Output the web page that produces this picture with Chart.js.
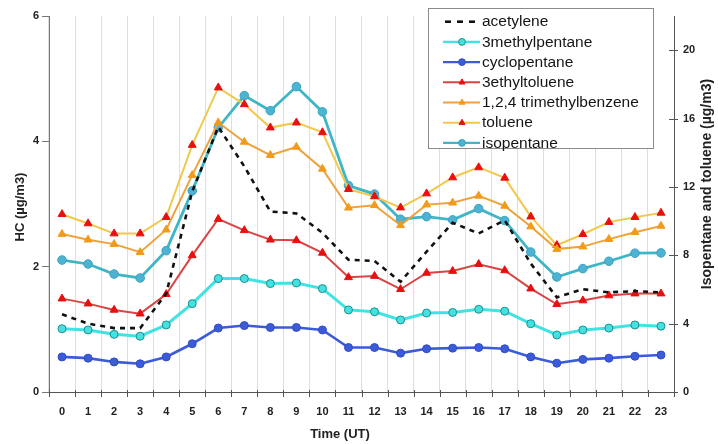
<!DOCTYPE html>
<html>
<head>
<meta charset="utf-8">
<script src="https://cdn.jsdelivr.net/npm/chart.js@4/dist/chart.umd.min.js"></script>
<style>
  html, body { margin: 0; padding: 0; background: #fff; }
  #wrap { width: 718px; height: 444px; }
</style>
</head>
<body>
<div id="wrap"><canvas id="c" width="718" height="444"></canvas></div>
<script>
// Hour of day (UT)
const hours = ['0','1','2','3','4','5','6','7','8','9','10','11','12','13','14','15','16','17','18','19','20','21','22','23'];

// Left axis species (µg/m3)
const acetylene      = [1.24,1.09,1.02,1.02,1.57,3.20,4.23,3.60,2.88,2.85,2.54,2.11,2.09,1.76,2.24,2.70,2.53,2.74,2.05,1.51,1.64,1.59,1.61,1.59];
const methylpentane3 = [1.01,0.99,0.92,0.89,1.07,1.41,1.81,1.81,1.73,1.74,1.65,1.31,1.28,1.15,1.26,1.27,1.32,1.29,1.09,0.91,0.99,1.02,1.07,1.05];
const cyclopentane   = [0.56,0.54,0.48,0.45,0.56,0.77,1.02,1.06,1.03,1.03,0.99,0.71,0.71,0.62,0.69,0.70,0.71,0.69,0.56,0.46,0.52,0.54,0.57,0.59];
const ethyltoluene3  = [1.49,1.41,1.31,1.25,1.56,2.18,2.76,2.58,2.43,2.42,2.22,1.83,1.85,1.64,1.90,1.93,2.04,1.94,1.65,1.40,1.46,1.54,1.57,1.57];
const tmb124         = [2.52,2.43,2.36,2.23,2.59,3.46,4.30,3.99,3.78,3.91,3.56,2.94,2.98,2.66,2.99,3.02,3.13,2.97,2.64,2.28,2.32,2.44,2.55,2.65];

// Right axis species (µg/m3)
const toluene        = [10.40,9.86,9.27,9.27,10.23,14.45,17.81,16.83,15.47,15.76,15.19,11.87,11.44,10.79,11.61,12.55,13.14,12.53,10.26,8.59,9.23,9.94,10.23,10.48];
const isopentane     = [7.72,7.49,6.90,6.67,8.27,11.77,15.47,17.34,16.46,17.87,16.39,12.08,11.58,10.11,10.26,10.07,10.73,10.03,8.19,6.73,7.22,7.65,8.12,8.14];

// Axis ticks
const leftTicks  = [0, 2, 4, 6];
const rightTicks = [0, 4, 8, 12, 16, 20];

const FONT = '"Liberation Sans", Arial, sans-serif';

const datasets = [
  { label: 'acetylene', data: acetylene, yAxisID: 'y',
    borderColor: '#111111', borderWidth: 2.6, borderDash: [5, 5],
    pointRadius: 0, pointStyle: false },
  { label: '3methylpentane', data: methylpentane3, yAxisID: 'y',
    borderColor: '#3fe3e3', borderWidth: 3, pointStyle: 'circle', pointRadius: 4,
    pointBackgroundColor: '#45e0e0', pointBorderColor: '#1b8f8f', pointBorderWidth: 1 },
  { label: 'cyclopentane', data: cyclopentane, yAxisID: 'y',
    borderColor: '#3b5bd9', borderWidth: 2.6, pointStyle: 'circle', pointRadius: 4,
    pointBackgroundColor: '#3b5bd9', pointBorderColor: '#2f4cc4', pointBorderWidth: 1 },
  { label: '3ethyltoluene', data: ethyltoluene3, yAxisID: 'y',
    borderColor: '#d94545', borderWidth: 2, pointStyle: 'triangle', pointRadius: 4.6,
    pointBackgroundColor: '#e8100f', pointBorderColor: '#e8100f', pointBorderWidth: 1 },
  { label: '1,2,4 trimethylbenzene', data: tmb124, yAxisID: 'y',
    borderColor: '#eea23c', borderWidth: 2, pointStyle: 'triangle', pointRadius: 4.6,
    pointBackgroundColor: '#f29a1c', pointBorderColor: '#f29a1c', pointBorderWidth: 1 },
  { label: 'toluene', data: toluene, yAxisID: 'y2',
    borderColor: '#f2c84b', borderWidth: 2, pointStyle: 'triangle', pointRadius: 4.6,
    pointBackgroundColor: '#e8100f', pointBorderColor: '#e8100f', pointBorderWidth: 1 },
  { label: 'isopentane', data: isopentane, yAxisID: 'y2',
    borderColor: '#3fb6c6', borderWidth: 2.8, pointStyle: 'circle', pointRadius: 4.3,
    pointBackgroundColor: '#4eb3d3', pointBorderColor: '#3aa3c0', pointBorderWidth: 1 }
];

// Axis titles, tick marks that cross the axis lines, and the boxed legend
const decorations = {
  id: 'decorations',
  afterDatasetsDraw(chart) {
    const ctx = chart.ctx;
    const area = chart.chartArea;
    const xs = chart.scales.x, y2 = chart.scales.y2;
    const step = xs.getPixelForValue(1) - xs.getPixelForValue(0);

    ctx.save();
    ctx.strokeStyle = '#555';
    ctx.lineWidth = 1;
    // x tick marks at category boundaries
    for (let i = 0; i <= hours.length; i++) {
      const px = Math.round(xs.getPixelForValue(i) - step / 2) + 0.5;
      ctx.beginPath();
      ctx.moveTo(px, area.bottom - 2);
      ctx.lineTo(px, area.bottom + 5);
      ctx.stroke();
    }
    // right axis tick marks
    rightTicks.forEach(v => {
      const py = Math.round(y2.getPixelForValue(v)) + 0.5;
      ctx.beginPath();
      ctx.moveTo(area.right - 5, py);
      ctx.lineTo(area.right + 4, py);
      ctx.stroke();
    });
    ctx.restore();
  },
  afterDraw(chart) {
    const ctx = chart.ctx;
    // Axis titles
    ctx.save();
    ctx.fillStyle = '#222';
    ctx.font = 'bold 13px ' + FONT;
    ctx.textAlign = 'center';
    ctx.textBaseline = 'middle';
    ctx.fillText('Time (UT)', 340, 434);

    ctx.save();
    ctx.translate(20, 207);
    ctx.rotate(-Math.PI / 2);
    ctx.fillText('HC (µg/m3)', 0, 0);
    ctx.restore();

    ctx.save();
    ctx.font = 'bold 14px ' + FONT;
    ctx.translate(707, 184);
    ctx.rotate(-Math.PI / 2);
    ctx.fillText('Isopentane and toluene (µg/m3)', 0, 0);
    ctx.restore();
    ctx.restore();

    // Legend box
    const bx = 428.5, by = 8.5, bw = 225, bh = 140;
    ctx.save();
    ctx.fillStyle = '#ffffff';
    ctx.fillRect(bx, by, bw, bh);
    ctx.strokeStyle = '#8a8a8a';
    ctx.lineWidth = 1;
    ctx.strokeRect(bx, by, bw, bh);

    chart.data.datasets.forEach((ds, k) => {
      const ry = 21.7 + k * 20.2;
      ctx.save();
      ctx.strokeStyle = ds.borderColor;
      ctx.lineWidth = Math.min(ds.borderWidth, 2.4);
      if (ds.borderDash) {
        ctx.lineWidth = 2.6;
        ctx.setLineDash([6, 6]);
        ctx.beginPath();
        ctx.moveTo(445, ry);
        ctx.lineTo(476, ry);
        ctx.stroke();
      } else {
        ctx.beginPath();
        ctx.moveTo(443, ry);
        ctx.lineTo(480, ry);
        ctx.stroke();
      }
      ctx.restore();
      if (ds.pointStyle) {
        ctx.save();
        ctx.fillStyle = ds.pointBackgroundColor;
        ctx.strokeStyle = ds.pointBorderColor;
        ctx.lineWidth = ds.pointBorderWidth;
        Chart.helpers.drawPoint(ctx, {
          pointStyle: ds.pointStyle, radius: 3.4,
          rotation: 0, borderWidth: ds.pointBorderWidth
        }, 462, ry);
        ctx.restore();
      }
      ctx.fillStyle = '#151515';
      ctx.font = '15.5px ' + FONT;
      ctx.textAlign = 'left';
      ctx.textBaseline = 'middle';
      ctx.fillText(ds.label, 482, ry + 0.5);
    });
    ctx.restore();
  }
};

new Chart(document.getElementById('c'), {
  type: 'line',
  data: { labels: hours, datasets },
  options: {
    responsive: false,
    devicePixelRatio: 1,
    animation: false,
    layout: { padding: { top: 16, left: 0, right: 0, bottom: 0 } },
    elements: { line: { tension: 0 } },
    plugins: { legend: { display: false }, tooltip: { enabled: false } },
    scales: {
      x: {
        type: 'category',
        offset: true,
        grid: { offset: true, color: '#dedede', lineWidth: 1, drawTicks: false },
        border: { color: '#555', width: 1 },
        ticks: { autoSkip: false, maxRotation: 0, padding: 13, color: '#222',
                 font: { family: FONT, size: 11, weight: 'bold' } },
        afterFit(s) { s.height = 52; }
      },
      y: {
        position: 'left',
        min: 0, max: 6,
        afterBuildTicks(s) { s.ticks = leftTicks.map(v => ({ value: v })); },
        grid: { drawOnChartArea: false, tickLength: 7, color: '#777' },
        border: { color: '#777', width: 1 },
        ticks: { padding: 3, color: '#222', font: { family: FONT, size: 11, weight: 'bold' } },
        afterFit(s) { s.width = 49; }
      },
      y2: {
        position: 'right',
        min: 0, max: 22,
        afterBuildTicks(s) { s.ticks = rightTicks.map(v => ({ value: v })); },
        grid: { drawOnChartArea: false, drawTicks: false },
        border: { color: '#555', width: 1 },
        ticks: { padding: 9, color: '#222', font: { family: FONT, size: 11, weight: 'bold' } },
        afterFit(s) { s.width = 44; }
      }
    }
  },
  plugins: [decorations]
});
</script>
</body>
</html>
